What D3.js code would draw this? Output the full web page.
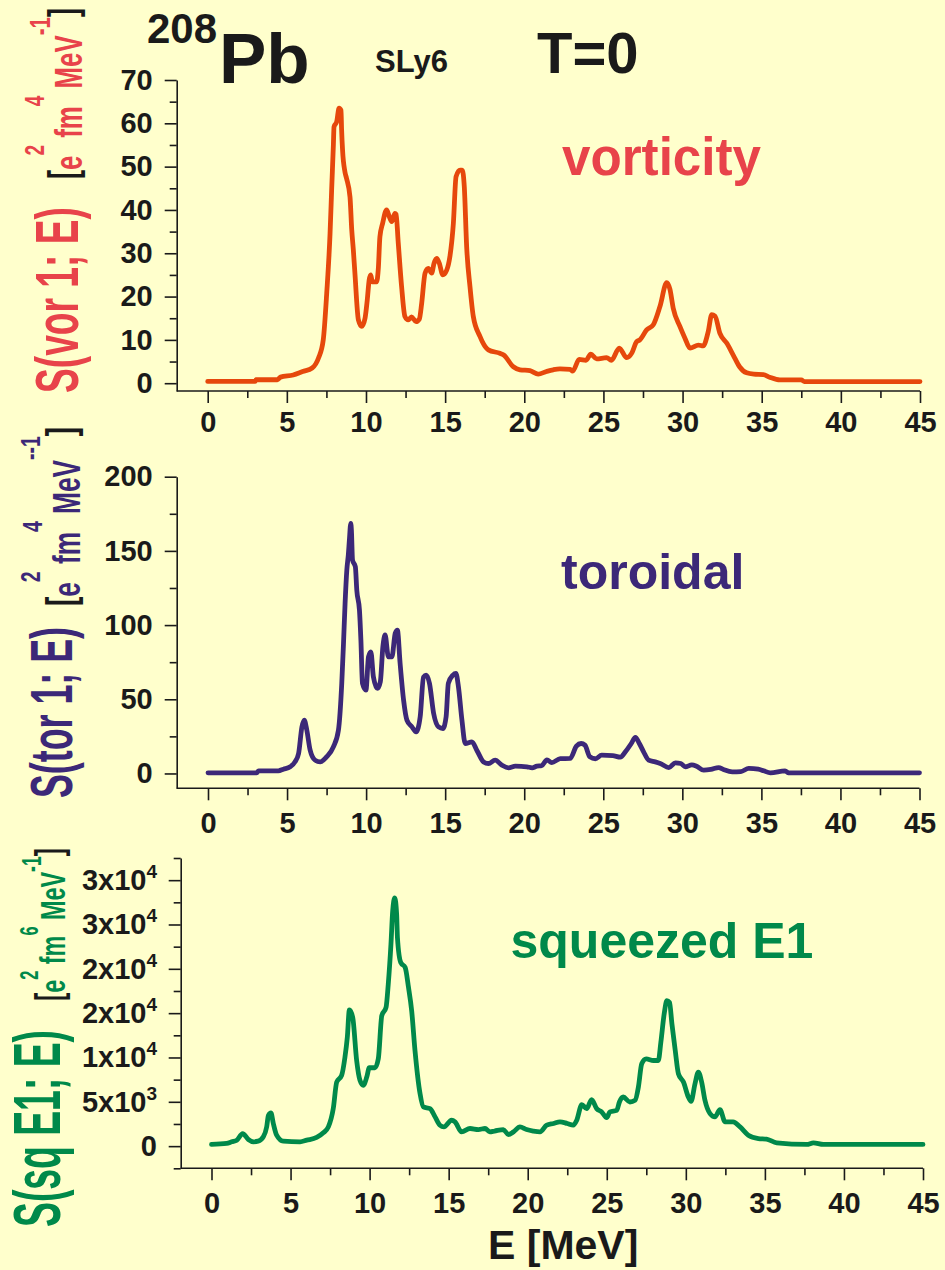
<!DOCTYPE html>
<html>
<head>
<meta charset="utf-8">
<script src="https://cdn.jsdelivr.net/npm/d3@7"></script>
<style>
  html, body { margin: 0; padding: 0; background: #ffffcc; }
  svg { display: block; }
  text { font-family: "Liberation Sans", Arial, Helvetica, sans-serif; font-weight: bold; }
</style>
</head>
<body>
<svg id="chart" width="945" height="1270"></svg>
<script>
// ---- strength functions of 208Pb (SLy6, T=0): [E in MeV, S] ----
const vorticity = [
  [0,0.4],[3.0,0.4],[3.05,0.8],[4.4,0.8],[4.6,1.4],[5.4,1.9],[6.0,2.7],[6.6,3.5],[7.0,5.8],[7.3,10],
  [7.52,20.8],[7.73,34.6],[7.83,44.6],[7.94,55],[7.98,59.2],[8.15,60.4],[8.3,63.5],[8.42,63],[8.46,58.5],
  [8.52,53.8],[8.67,48.8],[8.77,47.3],[8.99,43],[9.1,35.4],[9.2,30.8],[9.3,25.4],[9.52,14.6],[9.73,13.1],
  [9.94,15],[10.08,19.2],[10.2,23.8],[10.3,25],[10.4,23.4],[10.67,23.4],[10.78,26.5],[10.88,33.8],
  [11.05,36.9],[11.3,40],[11.47,38.5],[11.62,37.3],[11.83,39.2],[11.9,39],[12.04,32.3],[12.25,22.3],
  [12.46,15.4],[12.67,14.6],[12.88,15.3],[13.16,14.2],[13.37,14.8],[13.52,18.5],[13.73,25.4],[13.94,26.5],
  [14.15,25.4],[14.3,27.7],[14.47,28.8],[14.63,27.7],[14.85,25],[15.1,26.1],[15.3,29.2],[15.52,36.9],
  [15.69,47.7],[15.94,49.2],[16.08,49.2],[16.21,45.4],[16.36,31.5],[16.57,22.3],[16.78,15.4],[17.2,10.8],
  [17.52,8.5],[17.73,7.7],[18.46,6.9],[18.7,6.5],[19.31,3.8],[19.73,3.1],[20.36,2.9],[20.88,2.1],[21.4,2.7],
  [21.83,3.1],[22.25,3.3],[22.9,3.2],[23.06,2.8],[23.47,5.5],[23.9,5.3],[24.2,6.7],[24.57,5.6],[25.2,5.9],
  [25.5,5.3],[26.0,8.1],[26.47,5.9],[26.8,7],[27.1,9.6],[27.3,10],[27.73,12.3],[28.15,13.5],[28.57,17.7],
  [29.0,23.2],[29.2,21.7],[29.41,17.3],[29.83,13.1],[30.15,10.4],[30.47,8.1],[31.0,8.8],[31.3,8.6],
  [31.62,11.9],[31.84,15.8],[32.05,15.5],[32.36,11.5],[32.8,9.2],[33.2,6.5],[33.6,3.8],[34.05,2.4],
  [34.5,2.1],[35.1,2.0],[35.5,1.4],[36.15,0.77],[37.5,0.77],[37.7,0.37],[45,0.37]
];

const toroidal = [
  [0,0.4],[3.08,0.4],[3.2,1.8],[4.45,1.8],[4.77,2.9],[5.2,4.5],[5.5,7.8],[5.73,13.5],[5.94,31.4],[6.09,36],
  [6.25,29.2],[6.46,15.7],[6.77,9],[7.1,7.8],[7.5,11.2],[7.93,17.9],[8.25,29.2],[8.46,60.7],[8.57,87.7],
  [8.67,114.6],[8.78,137],[8.88,148],[8.94,157],[9.03,168.6],[9.07,164],[9.14,143.8],[9.32,139.3],
  [9.41,123.6],[9.58,110],[9.67,90],[9.77,60.7],[9.99,56.2],[10.15,78.6],[10.3,82],[10.46,65.2],
  [10.72,57.3],[10.9,61.8],[11.06,85.4],[11.2,93.3],[11.41,78.6],[11.63,78.6],[11.84,94.4],[11.98,96.6],
  [12.15,74.2],[12.37,49.4],[12.58,36],[12.9,31.4],[13.16,28],[13.42,38.2],[13.63,65],[13.8,66.3],
  [14.01,60.7],[14.27,40.5],[14.58,31.4],[14.86,30.3],[15.06,38.2],[15.2,60.7],[15.49,66.3],[15.68,67.4],
  [15.84,58.4],[16.06,36],[16.27,20.2],[16.69,21.3],[17.0,15.7],[17.43,7.8],[17.74,6.7],[18.16,9],
  [18.59,5.6],[19.01,3.8],[19.44,4.9],[20.17,4.5],[20.5,3.8],[20.8,4.9],[21.1,5.2],[21.44,9.2],[21.74,7.3],
  [22.28,10],[22.9,10.1],[23.3,18.4],[23.6,20.2],[23.84,19.1],[24.15,11.2],[24.5,9.9],[24.9,12.3],
  [25.6,12],[26.08,11],[26.4,14.6],[26.77,20.2],[27.03,24.3],[27.28,20.2],[27.55,14.6],[27.87,9],
  [28.29,7.8],[28.6,6.7],[29.15,4],[29.56,7.2],[29.9,6.7],[30.19,4.5],[30.6,5.8],[30.9,4.9],[31.35,2.2],
  [31.8,2.7],[32.3,4],[32.6,2.7],[33.16,1.1],[33.7,1.3],[34.2,3.4],[34.8,2.9],[35.14,1.8],[35.57,0.4],
  [36.5,1.8],[36.7,0.4],[45,0.4]
];

const squeezedE1 = [
  [0,190],[0.96,300],[1.28,490],[1.6,670],[1.97,1420],[2.33,750],[2.66,490],[2.95,560],[3.28,1050],
  [3.49,2170],[3.6,3480],[3.76,3740],[3.91,2550],[4.12,1240],[4.54,560],[5.6,490],[6.02,670],[6.65,975],
  [7.07,1500],[7.39,2170],[7.7,4230],[7.92,7230],[8.23,7980],[8.44,10030],[8.59,12280],[8.72,15360],
  [8.93,14530],[9.18,9660],[9.39,7420],[9.6,6850],[9.82,7790],[9.98,8840],[10.34,8840],[10.55,9850],
  [10.77,14720],[11.04,15650],[11.18,18280],[11.35,22780],[11.46,26520],[11.59,28010],[11.71,26150],
  [11.76,23520],[11.97,20710],[12.25,20150],[12.46,17900],[12.66,15280],[12.87,10790],[13.19,5920],
  [13.4,4420],[13.82,4230],[14.14,3300],[14.45,2360],[14.7,2170],[15.19,2920],[15.4,2740],[15.82,1610],
  [16.35,1990],[16.88,1870],[17.3,1990],[17.6,1610],[17.9,1700],[18.46,1870],[18.77,1310],[19.1,1610],
  [19.51,2170],[19.93,1870],[20.35,1700],[20.78,1610],[21.2,2360],[21.63,2550],[22.04,2740],[22.5,2550],
  [22.88,2360],[23.1,2920],[23.42,4680],[23.73,4230],[24.04,5250],[24.36,4230],[24.68,3860],[24.99,3220],
  [25.2,3860],[25.63,4040],[25.8,4980],[26.04,5540],[26.46,4980],[26.79,5170],[27.0,6670],[27.21,9290],
  [27.49,9850],[27.95,9660],[28.26,9660],[28.42,11720],[28.63,14910],[28.8,16400],[28.97,16200],
  [29.12,13790],[29.33,10790],[29.53,8170],[29.85,7230],[30.16,5540],[30.33,5060],[30.58,7040],
  [30.79,8350],[31.0,7230],[31.21,5170],[31.53,3670],[31.84,3300],[32.16,4120],[32.48,2740],[32.99,2740],
  [33.43,2170],[33.95,1240],[34.59,860],[35.1,790],[35.75,375],[37.65,190],[38.07,375],[38.7,190],[45,190]
];

// ---- ticks ----
const energyTicks = [0, 5, 10, 15, 20, 25, 30, 35, 40, 45];
const energyMinorTicks = [2.5, 7.5, 12.5, 17.5, 22.5, 27.5, 32.5, 37.5, 42.5];
const vorTicks = [0, 10, 20, 30, 40, 50, 60, 70];
const vorMinorTicks = [5, 15, 25, 35, 45, 55, 65];
const torTicks = [0, 50, 100, 150, 200];
const torMinorTicks = [25, 75, 125, 175];
const sqTicks = [0, 5000, 10000, 15000, 20000, 25000, 30000];
const sqMinorTicks = [-2500, 2500, 7500, 12500, 17500, 22500, 27500, 32500];
const sqTickMantissa = ["0", "5x10", "1x10", "2x10", "2x10", "3x10", "3x10"];
const sqTickExponent = ["", "3", "4", "4", "4", "4", "4"];

// ---- drawing ----
const INK = "#1a1a1a";
const RED_TEXT = "#e8434a";
const RED_LINE = "#e6480c";
const PURPLE = "#3c2878";
const GREEN = "#00894a";

const svg = d3.select("#chart");
svg.append("rect").attr("width", 945).attr("height", 1270).attr("fill", "#ffffcc");

function styleAxis(g) {
  g.attr("font-size", 29).attr("font-family", null).attr("color", INK);
  g.selectAll("line, path").attr("stroke-width", 1.6);
}

function drawPanel(p) {
  const x = d3.scaleLinear().domain([0, 45]).range(p.xRange);
  const y = d3.scaleLinear().domain(p.yDomain).range([p.xAxisY, p.yTop]);
  const g = svg.append("g");

  // horizontal axis line runs from the vertical axis to the last tick
  g.append("line")
    .attr("x1", p.yAxisX).attr("x2", p.xRange[1])
    .attr("y1", p.xAxisY).attr("y2", p.xAxisY)
    .attr("stroke", INK).attr("stroke-width", 1.6);

  const xMajor = g.append("g").attr("transform", `translate(0,${p.xAxisY})`)
    .call(d3.axisBottom(x).tickValues(energyTicks).tickSize(12).tickPadding(p.xPad).tickFormat(d3.format("d")));
  xMajor.select(".domain").remove();
  styleAxis(xMajor);

  const xMinor = g.append("g").attr("transform", `translate(0,${p.xAxisY})`)
    .call(d3.axisBottom(x).tickValues(energyMinorTicks).tickSize(7).tickFormat(""));
  xMinor.select(".domain").remove();
  styleAxis(xMinor);

  const yMajor = g.append("g").attr("transform", `translate(${p.yAxisX},0)`)
    .call(d3.axisLeft(y).tickValues(p.yTicks).tickSize(12).tickSizeOuter(0)
      .tickPadding(p.yPad).tickFormat(p.yFormat || d3.format("d")));
  styleAxis(yMajor);
  if (p.afterY) p.afterY(yMajor);

  const yMinor = g.append("g").attr("transform", `translate(${p.yAxisX},0)`)
    .call(d3.axisLeft(y).tickValues(p.yMinor).tickSize(7).tickFormat(""));
  yMinor.select(".domain").remove();
  styleAxis(yMinor);

  const line = d3.line().curve(d3.curveMonotoneX).x(d => x(d[0])).y(d => y(d[1]));
  g.append("path").datum(p.data)
    .attr("d", line)
    .attr("fill", "none")
    .attr("stroke", p.color)
    .attr("stroke-width", 4.8)
    .attr("stroke-linejoin", "round")
    .attr("stroke-linecap", "round");
}

// rotated (bottom-to-top) label, squeezed along its reading direction to a given length
function verticalLabel(opt) {
  const outer = svg.append("g").attr("transform", `translate(${opt.x},${opt.yBottom}) rotate(-90)`);
  const inner = outer.append("g");
  const t = inner.append("text").attr("x", 0).attr("y", 0);
  let shift = 0;
  opt.parts.forEach(part => {
    const target = -(part.raise || 0);
    t.append("tspan")
      .attr("dy", target - shift)
      .attr("font-size", part.size)
      .attr("fill", part.fill)
      .text(part.text);
    shift = target;
  });
  const bb = t.node().getBBox();
  const sx = opt.length / bb.width;
  inner.attr("transform", `scale(${sx},1) translate(${-bb.x},0)`);
}

// ---- panel 1: vorticity ----
drawPanel({
  data: vorticity, color: RED_LINE,
  xRange: [207.7, 920], xAxisY: 391, yAxisX: 176.7, yTop: 80, xPad: 8,
  yDomain: [-1.8, 70], yTicks: vorTicks, yMinor: vorMinorTicks, yPad: 12
});

// ---- panel 2: toroidal ----
drawPanel({
  data: toroidal, color: PURPLE,
  xRange: [208, 919.5], xAxisY: 788.3, yAxisX: 176.7, yTop: 476.7, xPad: 12,
  yDomain: [-10, 200], yTicks: torTicks, yMinor: torMinorTicks, yPad: 12
});

// ---- panel 3: squeezed E1 ----
drawPanel({
  data: squeezedE1, color: GREEN,
  xRange: [211.5, 923], xAxisY: 1168.3, yAxisX: 180.7, yTop: 858, xPad: 12,
  yDomain: [-2500, 32500], yTicks: sqTicks, yMinor: sqMinorTicks, yPad: 11.7,
  yFormat: () => "",
  afterY: g => {
    g.selectAll(".tick text").each(function (d, i) {
      const t = d3.select(this);
      t.append("tspan").text(sqTickMantissa[i]);
      if (sqTickExponent[i]) {
        t.append("tspan").attr("font-size", 19).attr("dy", -12).text(sqTickExponent[i]);
      }
    });
  }
});

// ---- heading ----
svg.append("text").attr("x", 147).attr("y", 43).attr("font-size", 42).attr("fill", INK).text("208");
svg.append("text").attr("x", 219).attr("y", 83).attr("font-size", 71).attr("fill", INK).text("Pb");
svg.append("text").attr("x", 375).attr("y", 72).attr("font-size", 31).attr("fill", INK).text("SLy6");
svg.append("text").attr("x", 537).attr("y", 73).attr("font-size", 58).attr("fill", INK).text("T=0");

// ---- curve names ----
svg.append("text").attr("x", 562).attr("y", 175).attr("font-size", 54).attr("fill", RED_TEXT)
  .attr("textLength", 199).attr("lengthAdjust", "spacingAndGlyphs").text("vorticity");
svg.append("text").attr("x", 561).attr("y", 589).attr("font-size", 50).attr("fill", PURPLE).text("toroidal");
svg.append("text").attr("x", 510.5).attr("y", 958).attr("font-size", 50).attr("fill", GREEN).text("squeezed E1");

// ---- energy axis title ----
svg.append("text").attr("x", 488).attr("y", 1259).attr("font-size", 41).attr("fill", INK).text("E [MeV]");

// ---- vertical titles ----
verticalLabel({ x: 78, yBottom: 393, length: 186,
  parts: [{ text: "S(vor 1; E)", size: 62, fill: RED_TEXT }] });
verticalLabel({ x: 82, yBottom: 179, length: 171,
  parts: [
    { text: "[", size: 40, fill: INK, raise: 5 },
    { text: "e", size: 38, fill: RED_TEXT },
    { text: "2", size: 28, fill: RED_TEXT, raise: 38 },
    { text: " fm", size: 38, fill: RED_TEXT },
    { text: "4", size: 28, fill: RED_TEXT, raise: 38 },
    { text: " MeV", size: 38, fill: RED_TEXT },
    { text: "-1", size: 30, fill: RED_TEXT, raise: 32 },
    { text: "]", size: 40, fill: INK, raise: 5 }
  ] });

verticalLabel({ x: 72, yBottom: 798, length: 171,
  parts: [{ text: "S(tor 1; E)", size: 60, fill: PURPLE }] });
verticalLabel({ x: 80, yBottom: 606, length: 179,
  parts: [
    { text: "[", size: 40, fill: INK, raise: 5 },
    { text: "e", size: 38, fill: PURPLE },
    { text: "2", size: 28, fill: PURPLE, raise: 40 },
    { text: " fm", size: 38, fill: PURPLE },
    { text: "4", size: 28, fill: PURPLE, raise: 38 },
    { text: " MeV", size: 38, fill: PURPLE },
    { text: "--1", size: 28, fill: PURPLE, raise: 40 },
    { text: "]", size: 40, fill: INK, raise: 5 }
  ] });

verticalLabel({ x: 60, yBottom: 1227, length: 197,
  parts: [{ text: "S(sq E1; E)", size: 66, fill: GREEN }] });
verticalLabel({ x: 65, yBottom: 1001, length: 153,
  parts: [
    { text: "[", size: 38, fill: INK, raise: 3 },
    { text: "e", size: 36, fill: GREEN },
    { text: "2", size: 25, fill: GREEN, raise: 27 },
    { text: " fm", size: 36, fill: GREEN },
    { text: "6", size: 25, fill: GREEN, raise: 27 },
    { text: " MeV", size: 36, fill: GREEN },
    { text: "-1", size: 27, fill: GREEN, raise: 24 },
    { text: "]", size: 38, fill: INK, raise: 3 }
  ] });
</script>
</body>
</html>
